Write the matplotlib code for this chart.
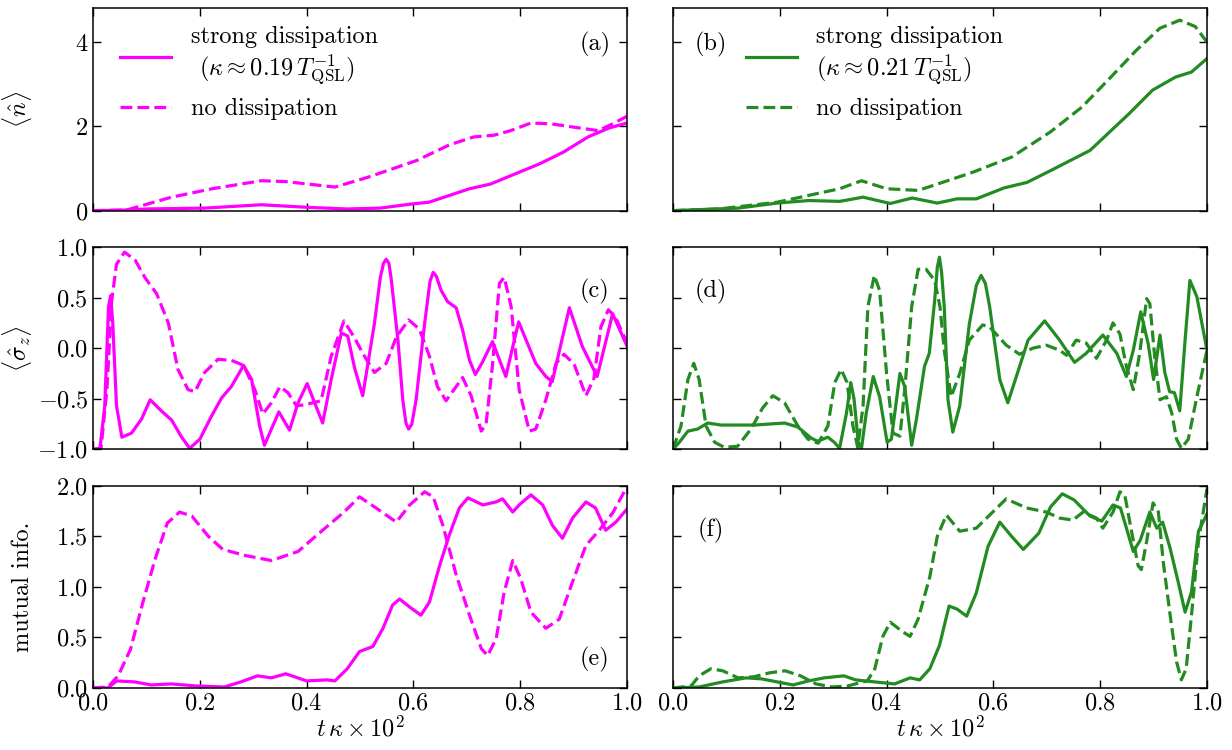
import matplotlib
matplotlib.use("Agg")
import matplotlib.pyplot as plt

plt.rcParams['font.family'] = 'serif'
plt.rcParams['font.serif'] = ['cmr10']
plt.rcParams['mathtext.fontset'] = 'cm'
plt.rcParams['axes.formatter.use_mathtext'] = True
plt.rcParams['font.size'] = 17.5
plt.rcParams['axes.linewidth'] = 1.1

MAGENTA = '#ff00ff'
GREEN = '#228b22'

# ---- panel (a): <n>, kappa ~ 0.19 ----
a_solid_x = [0, 0.05, 0.101, 0.208, 0.315, 0.4, 0.476, 0.537, 0.598, 0.629, 0.667, 0.705, 0.744, 0.79, 0.836, 0.881, 0.927, 0.966, 1.0]
a_solid_y = [0, 0.01, 0.04, 0.06, 0.14, 0.08, 0.04, 0.06, 0.16, 0.2, 0.36, 0.52, 0.63, 0.87, 1.11, 1.39, 1.75, 1.96, 2.08]
a_dash_x = [0, 0.063, 0.1, 0.147, 0.223, 0.315, 0.361, 0.453, 0.514, 0.606, 0.667, 0.713, 0.751, 0.782, 0.82, 0.858, 0.912, 0.946, 0.973, 1.0]
a_dash_y = [0, 0.016, 0.15, 0.32, 0.52, 0.71, 0.69, 0.56, 0.79, 1.19, 1.56, 1.75, 1.79, 1.90, 2.08, 2.06, 1.96, 1.90, 2.06, 2.24]

# ---- panel (b): <n>, kappa ~ 0.21 ----
b_solid_x = [0, 0.122, 0.195, 0.254, 0.312, 0.356, 0.407, 0.448, 0.495, 0.532, 0.568, 0.62, 0.663, 0.707, 0.781, 0.854, 0.898, 0.941, 0.971, 1.0]
b_solid_y = [0, 0.06, 0.18, 0.24, 0.22, 0.32, 0.17, 0.30, 0.18, 0.28, 0.28, 0.54, 0.67, 0.95, 1.43, 2.30, 2.86, 3.17, 3.29, 3.61]
b_dash_x = [0, 0.086, 0.195, 0.268, 0.312, 0.353, 0.4, 0.459, 0.488, 0.561, 0.634, 0.707, 0.766, 0.817, 0.868, 0.912, 0.949, 0.978, 1.0]
b_dash_y = [0, 0.04, 0.2, 0.4, 0.52, 0.71, 0.52, 0.48, 0.6, 0.91, 1.27, 1.87, 2.46, 3.13, 3.81, 4.33, 4.52, 4.37, 4.0]

# ---- panel (c): <sigma_z>, kappa ~ 0.19 ----
c_solid_x = [0, 0.013, 0.022, 0.029, 0.033, 0.037, 0.044, 0.054, 0.072, 0.091, 0.107, 0.128, 0.147, 0.166, 0.181,
             0.2, 0.222, 0.241, 0.259, 0.282, 0.297, 0.312, 0.321, 0.334, 0.348, 0.368, 0.384, 0.401, 0.415, 0.43,
             0.446, 0.465, 0.477, 0.49, 0.505, 0.527, 0.538, 0.544, 0.549, 0.554, 0.558, 0.571, 0.58, 0.586, 0.591,
             0.597, 0.605, 0.621, 0.631, 0.637, 0.643, 0.652, 0.664, 0.68, 0.692, 0.705, 0.716, 0.728, 0.748, 0.773,
             0.797, 0.829, 0.848, 0.86, 0.892, 0.916, 0.944, 0.973, 1.0]
c_solid_y = [-1.0, -0.99, -0.57, 0.41, 0.52, 0.245, -0.57, -0.88, -0.84, -0.70, -0.51, -0.62, -0.71, -0.88, -0.99,
             -0.90, -0.67, -0.49, -0.38, -0.17, -0.31, -0.77, -0.96, -0.80, -0.63, -0.81, -0.54, -0.35, -0.54, -0.74,
             -0.31, 0.15, 0.12, -0.2, -0.47, 0.245, 0.70, 0.84, 0.88, 0.84, 0.70, 0.08, -0.51, -0.74, -0.80,
             -0.75, -0.51, 0.245, 0.66, 0.75, 0.71, 0.57, 0.46, 0.40, 0.18, -0.12, -0.26, -0.15, 0.065, -0.28,
             0.26, -0.15, -0.28, -0.33, 0.40, 0.02, -0.28, 0.34, 0.02]
c_dash_x = [0, 0.015, 0.026, 0.035, 0.044, 0.059, 0.079, 0.097, 0.119, 0.141, 0.159, 0.178, 0.191, 0.209, 0.234,
            0.259, 0.282, 0.303, 0.318, 0.334, 0.35, 0.365, 0.381, 0.396, 0.427, 0.446, 0.47, 0.49, 0.505, 0.527,
            0.549, 0.568, 0.591, 0.611, 0.63, 0.645, 0.661, 0.68, 0.692, 0.708, 0.727, 0.736, 0.748, 0.761, 0.77,
            0.783, 0.798, 0.817, 0.829, 0.848, 0.867, 0.882, 0.901, 0.923, 0.938, 0.951, 0.965, 0.978, 1.0]
c_dash_y = [-1.0, -0.99, -0.41, 0.47, 0.83, 0.95, 0.87, 0.70, 0.54, 0.25, -0.21, -0.41, -0.43, -0.24, -0.11,
            -0.12, -0.17, -0.41, -0.65, -0.54, -0.38, -0.44, -0.57, -0.56, -0.52, -0.08, 0.27, 0.10, -0.05, -0.24,
            -0.15, 0.11, 0.28, 0.19, -0.08, -0.38, -0.52, -0.38, -0.29, -0.47, -0.82, -0.75, -0.17, 0.64, 0.70,
            0.41, -0.41, -0.82, -0.80, -0.51, -0.15, -0.06, -0.16, -0.47, -0.30, 0.21, 0.38, 0.31, 0.05]

# ---- panel (d): <sigma_z>, kappa ~ 0.21 ----
d_solid_x = [0, 0.012, 0.028, 0.046, 0.065, 0.09, 0.153, 0.209, 0.234, 0.259, 0.271, 0.29, 0.302, 0.312, 0.325,
             0.333, 0.339, 0.347, 0.353, 0.362, 0.375, 0.387, 0.401, 0.409, 0.425, 0.434, 0.447, 0.456, 0.471, 0.48,
             0.49, 0.495, 0.499, 0.503, 0.508, 0.515, 0.524, 0.537, 0.555, 0.568, 0.577, 0.585, 0.593, 0.612, 0.627,
             0.643, 0.665, 0.696, 0.724, 0.752, 0.774, 0.805, 0.831, 0.849, 0.862, 0.876, 0.89, 0.9, 0.912, 0.921,
             0.93, 0.939, 0.949, 0.959, 0.968, 0.981, 1.0]
d_solid_y = [-1.0, -0.93, -0.82, -0.80, -0.74, -0.76, -0.76, -0.74, -0.78, -0.89, -0.92, -0.88, -0.93, -0.99, -0.64,
             -0.34, -0.5, -0.93, -0.99, -0.64, -0.28, -0.48, -0.93, -0.90, -0.25, -0.38, -0.96, -0.70, -0.18, -0.05,
             0.47, 0.80, 0.90, 0.75, 0.41, -0.51, -0.83, -0.57, 0.24, 0.62, 0.72, 0.64, 0.41, -0.31, -0.54,
             -0.28, 0.08, 0.27, 0.08, -0.14, -0.05, 0.13, -0.05, -0.28, -0.02, 0.36, 0.04, -0.31, 0.13, -0.24,
             -0.43, -0.44, -0.62, 0.08, 0.67, 0.51, -0.02]
d_dash_x = [0, 0.015, 0.028, 0.039, 0.049, 0.062, 0.078, 0.096, 0.121, 0.146, 0.168, 0.187, 0.209, 0.234, 0.253,
            0.272, 0.29, 0.303, 0.315, 0.326, 0.337, 0.346, 0.356, 0.365, 0.377, 0.387, 0.4, 0.412, 0.425, 0.434,
            0.447, 0.459, 0.474, 0.49, 0.5, 0.508, 0.521, 0.537, 0.555, 0.58, 0.593, 0.624, 0.649, 0.674, 0.699,
            0.724, 0.737, 0.755, 0.774, 0.793, 0.812, 0.824, 0.837, 0.849, 0.862, 0.874, 0.887, 0.893, 0.902, 0.912,
            0.924, 0.934, 0.943, 0.952, 0.965, 0.981, 1.0]
d_dash_y = [-1.0, -0.77, -0.31, -0.15, -0.31, -0.77, -0.93, -0.98, -0.97, -0.80, -0.59, -0.47, -0.54, -0.77, -0.90,
            -0.94, -0.77, -0.34, -0.21, -0.34, -0.77, -0.98, -0.57, 0.41, 0.72, 0.57, -0.25, -0.84, -0.87, -0.41,
            0.41, 0.78, 0.78, 0.67, 0.41, -0.02, -0.48, -0.25, 0.08, 0.23, 0.21, 0.03, -0.06, 0.0, 0.03,
            -0.02, -0.07, 0.08, 0.05, -0.10, 0.08, 0.25, 0.14, -0.18, -0.41, -0.05, 0.49, 0.44, -0.08, -0.51,
            -0.48, -0.64, -0.90, -0.99, -0.90, -0.48, -0.02]

# ---- panel (e): mutual info, kappa ~ 0.19 ----
e_solid_x = [0, 0.028, 0.044, 0.078, 0.109, 0.147, 0.193, 0.246, 0.277, 0.308, 0.334, 0.361, 0.4, 0.438, 0.453,
             0.476, 0.499, 0.524, 0.543, 0.561, 0.574, 0.593, 0.614, 0.63, 0.649, 0.667, 0.686, 0.702, 0.73, 0.755,
             0.767, 0.786, 0.798, 0.82, 0.842, 0.86, 0.879, 0.898, 0.923, 0.941, 0.96, 0.979, 1.0]
e_solid_y = [0, 0.0, 0.07, 0.06, 0.03, 0.04, 0.02, 0.01, 0.06, 0.12, 0.10, 0.14, 0.07, 0.08, 0.07,
             0.19, 0.36, 0.41, 0.59, 0.82, 0.88, 0.80, 0.72, 0.85, 1.21, 1.51, 1.78, 1.88, 1.81, 1.84,
             1.87, 1.74, 1.81, 1.91, 1.81, 1.61, 1.48, 1.68, 1.84, 1.78, 1.56, 1.64, 1.77]
e_dash_x = [0, 0.028, 0.047, 0.07, 0.093, 0.116, 0.139, 0.162, 0.185, 0.216, 0.243, 0.285, 0.334, 0.384, 0.43,
            0.468, 0.499, 0.53, 0.568, 0.593, 0.621, 0.637, 0.655, 0.68, 0.705, 0.727, 0.739, 0.755, 0.77, 0.786,
            0.801, 0.82, 0.848, 0.873, 0.898, 0.923, 0.948, 0.973, 1.0]
e_dash_y = [0, 0.01, 0.12, 0.38, 0.84, 1.27, 1.63, 1.74, 1.70, 1.50, 1.37, 1.31, 1.26, 1.35, 1.56,
            1.73, 1.89, 1.78, 1.64, 1.81, 1.94, 1.89, 1.61, 1.12, 0.72, 0.39, 0.32, 0.49, 0.95, 1.26,
            1.08, 0.75, 0.59, 0.68, 1.05, 1.41, 1.56, 1.73, 1.99]

# ---- panel (f): mutual info, kappa ~ 0.21 ----
f_solid_x = [0, 0.049, 0.093, 0.137, 0.166, 0.195, 0.225, 0.254, 0.283, 0.32, 0.342, 0.378, 0.415, 0.444, 0.462,
             0.481, 0.499, 0.517, 0.532, 0.55, 0.568, 0.59, 0.612, 0.634, 0.656, 0.685, 0.707, 0.729, 0.751, 0.781,
             0.803, 0.824, 0.838, 0.862, 0.875, 0.893, 0.906, 0.917, 0.931, 0.946, 0.959, 0.971, 0.984, 1.0]
f_solid_y = [0, 0.01, 0.06, 0.10, 0.09, 0.06, 0.03, 0.07, 0.10, 0.12, 0.08, 0.06, 0.04, 0.10, 0.08,
             0.19, 0.42, 0.81, 0.78, 0.71, 0.94, 1.40, 1.64, 1.50, 1.37, 1.53, 1.79, 1.92, 1.86, 1.70,
             1.65, 1.81, 1.78, 1.35, 1.46, 1.74, 1.58, 1.64, 1.38, 1.05, 0.75, 0.95, 1.55, 1.72]
f_dash_x = [0, 0.034, 0.049, 0.071, 0.093, 0.122, 0.151, 0.181, 0.21, 0.239, 0.268, 0.298, 0.327, 0.364, 0.378,
            0.393, 0.407, 0.429, 0.444, 0.459, 0.481, 0.495, 0.512, 0.537, 0.568, 0.624, 0.662, 0.699, 0.724, 0.749,
            0.768, 0.793, 0.805, 0.824, 0.837, 0.846, 0.859, 0.871, 0.877, 0.887, 0.899, 0.909, 0.918, 0.931, 0.943,
            0.952, 0.961, 0.971, 0.984, 1.0]
f_dash_y = [0, 0.02, 0.12, 0.19, 0.17, 0.10, 0.11, 0.15, 0.17, 0.12, 0.04, 0.01, 0.02, 0.07, 0.19,
            0.51, 0.65, 0.56, 0.51, 0.68, 1.10, 1.50, 1.71, 1.55, 1.58, 1.87, 1.78, 1.74, 1.68, 1.66,
            1.74, 1.68, 1.58, 1.74, 1.94, 1.91, 1.54, 1.21, 1.17, 1.45, 1.83, 1.74, 1.25, 0.72, 0.26,
            0.08, 0.19, 0.72, 1.45, 1.97]

solid_label_a = 'strong dissipation\n $(\\kappa \\approx 0.19\\,T_{\\rm QSL}^{-1})$'
solid_label_b = 'strong dissipation\n$(\\kappa \\approx 0.21\\,T_{\\rm QSL}^{-1})$'
dash_label = 'no dissipation'

fig, axes = plt.subplots(3, 2, figsize=(12.32, 7.5), dpi=100, sharex=True, sharey='row')
fig.subplots_adjust(left=0.0755, right=0.9797, bottom=0.0827, top=0.9888, wspace=0.086, hspace=0.18)

panels = [
    (axes[0, 0], a_solid_x, a_solid_y, a_dash_x, a_dash_y, MAGENTA, '(a)'),
    (axes[0, 1], b_solid_x, b_solid_y, b_dash_x, b_dash_y, GREEN, '(b)'),
    (axes[1, 0], c_solid_x, c_solid_y, c_dash_x, c_dash_y, MAGENTA, '(c)'),
    (axes[1, 1], d_solid_x, d_solid_y, d_dash_x, d_dash_y, GREEN, '(d)'),
    (axes[2, 0], e_solid_x, e_solid_y, e_dash_x, e_dash_y, MAGENTA, '(e)'),
    (axes[2, 1], f_solid_x, f_solid_y, f_dash_x, f_dash_y, GREEN, '(f)'),
]

for i, (ax, sx, sy, dx, dy, col, tag) in enumerate(panels):
    left = (i % 2 == 0)
    lab_s = (solid_label_a if left else solid_label_b) if i < 2 else None
    lab_d = dash_label if i < 2 else None
    ax.plot(sx, sy, color=col, lw=2.3, label=lab_s)
    ax.plot(dx, dy, color=col, lw=2.3, ls='--', label=lab_d)
    ax.tick_params(direction='in', top=True, right=True, length=5.5, width=1.0, labelsize=17.5)
    ax.set_xlim(0, 1.0)
    # panel tag
    if left and tag == '(e)':
        ax.text(0.94, 0.14, tag, transform=ax.transAxes, ha='center', va='center')
    elif left:
        ax.text(0.94, 0.82 if tag == '(a)' else 0.78, tag, transform=ax.transAxes, ha='center', va='center')
    else:
        ax.text(0.07, 0.82 if tag == '(b)' else 0.78, tag, transform=ax.transAxes, ha='center', va='center')

axes[0, 0].set_ylim(0, 4.8)
axes[0, 0].set_yticks([0, 2, 4])
axes[1, 0].set_ylim(-1.0, 1.0)
axes[1, 0].set_yticks([-1.0, -0.5, 0.0, 0.5, 1.0])
axes[2, 0].set_ylim(0, 2.0)
axes[2, 0].set_yticks([0.0, 0.5, 1.0, 1.5, 2.0])
axes[2, 0].set_xticks([0.0, 0.2, 0.4, 0.6, 0.8, 1.0])

axes[0, 0].set_ylabel(r'$\langle \hat{n} \rangle$')
axes[1, 0].set_ylabel(r'$\langle \hat{\sigma}_z \rangle$')
axes[2, 0].set_ylabel('mutual info.')
for ax in axes[:, 0]:
    ax.yaxis.set_label_coords(-0.11, 0.5)
for ax in axes[2, :]:
    ax.set_xlabel(r'$t\,\kappa \times 10^2$', labelpad=1)

axes[0, 0].legend(loc='upper left', bbox_to_anchor=(0.033, 0.96), borderaxespad=0, frameon=False,
                  handlelength=2.1, labelspacing=0.45)
axes[0, 1].legend(loc='upper left', bbox_to_anchor=(0.118, 0.96), borderaxespad=0, frameon=False,
                  handlelength=2.1, labelspacing=0.45)

fig.savefig('out.png', dpi=100)
